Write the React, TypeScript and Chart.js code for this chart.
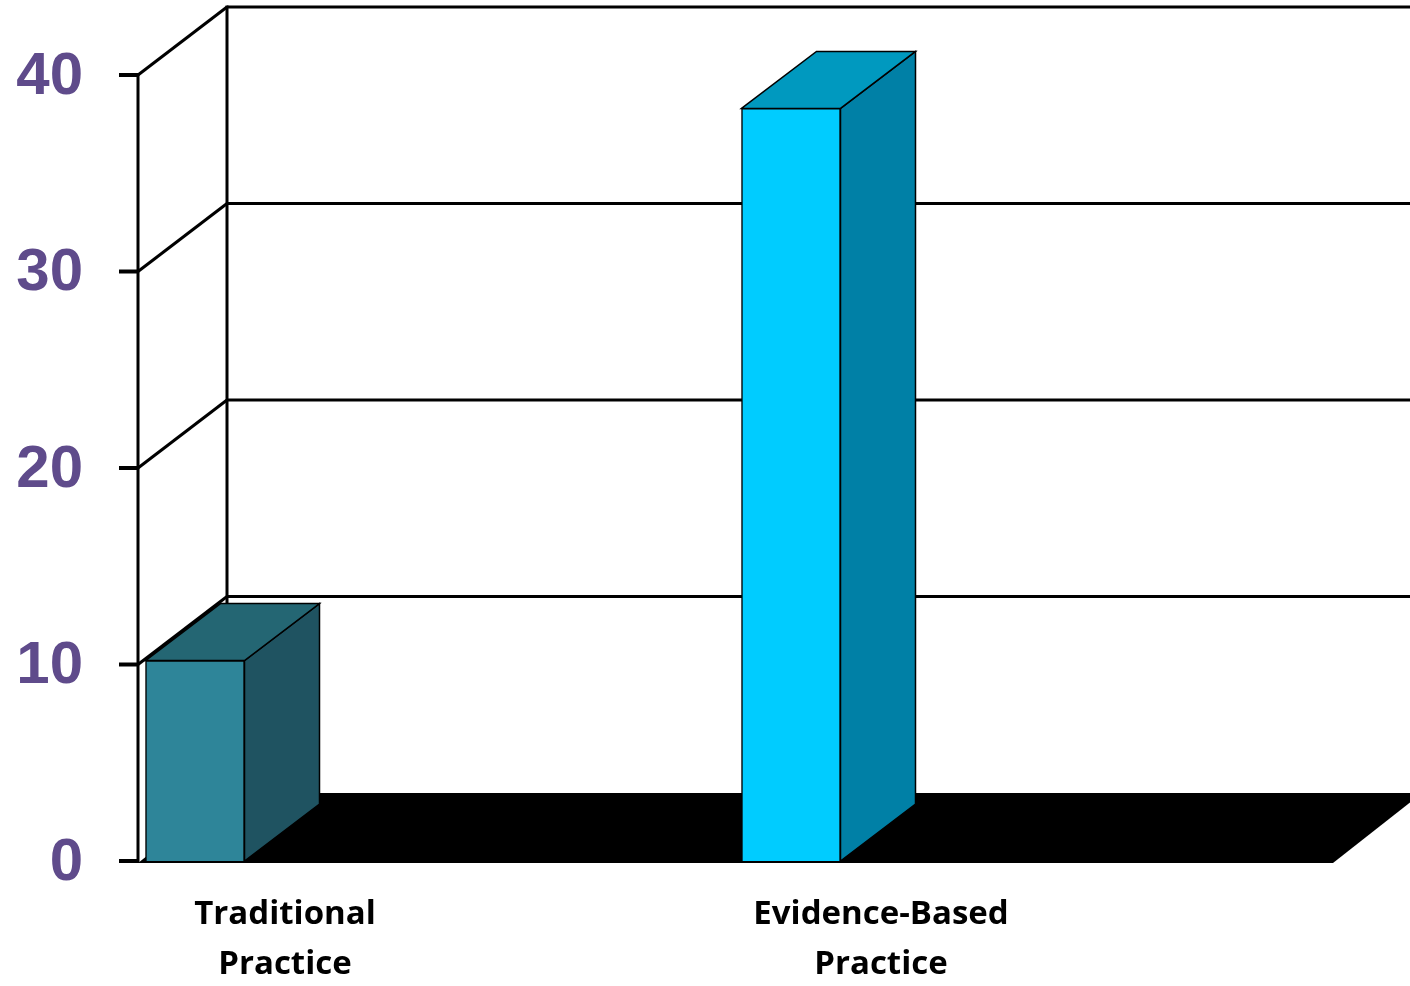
import React, { useEffect, useRef } from 'react';
import { Chart, registerables } from 'chart.js';

Chart.register(...registerables);

// ---- data ----
const CATEGORIES: string[][] = [
  ['Traditional', 'Practice'],
  ['Evidence-Based', 'Practice'],
];
const VALUES: number[] = [10.2, 38.3];
const Y_TICKS: number[] = [0, 10, 20, 30, 40];
const Y_MIN = 0;
const Y_MAX = 40;

// ---- styles ----
const FRONT_COLORS = ['#2E8599', '#00CCFF'];
const TOP_COLORS = ['#246673', '#0099BF'];
const SIDE_COLORS = ['#1F5361', '#0080A6'];
const TICK_COLOR = '#5F4B8B';

const W = 1410;
const H = 986;
const WALL_DX = 89;
const WALL_DY = -68;
const BAR_DX = 75;
const BAR_DY = -57;
const WALL_LEFT_GAP = 57;
const FLOOR_RIGHT_EXT = 542;
const LABEL_DX = 90;

const threeDPlugin = {
  id: 'threeD',
  beforeDatasetsDraw(chart: any) {
    const ctx: CanvasRenderingContext2D = chart.ctx;
    const xs = chart.scales.x;
    const ys = chart.scales.y;
    const x0 = xs.getPixelForValue(0) - WALL_LEFT_GAP;
    const xR = xs.getPixelForValue(CATEGORIES.length - 1) + FLOOR_RIGHT_EXT;
    const yBase = ys.getPixelForValue(Y_MIN);
    const yTop = ys.getPixelForValue(Y_MAX);

    const line = (ax: number, ay: number, bx: number, by: number) => {
      ctx.beginPath();
      ctx.moveTo(ax, ay);
      ctx.lineTo(bx, by);
      ctx.stroke();
    };
    const poly = (pts: number[][], fill: string, stroke?: string, lw = 1.5) => {
      ctx.beginPath();
      ctx.moveTo(pts[0][0], pts[0][1]);
      for (let i = 1; i < pts.length; i++) ctx.lineTo(pts[i][0], pts[i][1]);
      ctx.closePath();
      ctx.fillStyle = fill;
      ctx.fill();
      if (stroke) {
        ctx.strokeStyle = stroke;
        ctx.lineWidth = lw;
        ctx.lineJoin = 'miter';
        ctx.stroke();
      }
    };

    ctx.save();
    ctx.strokeStyle = '#000';
    ctx.lineCap = 'butt';
    ctx.lineWidth = 3;

    // back wall gridlines and left wall diagonals
    Y_TICKS.forEach((v) => {
      if (v === Y_MIN) return;
      const y = ys.getPixelForValue(v);
      line(x0 + WALL_DX, y + WALL_DY, W + 20, y + WALL_DY);
      line(x0, y, x0 + WALL_DX, y + WALL_DY);
    });
    // back wall vertical
    line(x0 + WALL_DX, yTop + WALL_DY - 1.5, x0 + WALL_DX, yBase + WALL_DY);
    // left wall vertical
    line(x0, yTop - 1.5, x0, yBase + 2);

    // tick marks
    ctx.lineWidth = 4;
    Y_TICKS.forEach((v) => {
      const y = ys.getPixelForValue(v);
      line(x0 - 19, y, x0, y);
    });

    // floor
    poly(
      [
        [x0, yBase + 2],
        [xR, yBase + 2],
        [xR + WALL_DX, yBase + WALL_DY],
        [x0 + WALL_DX, yBase + WALL_DY],
      ],
      '#000'
    );

    // tick labels
    ctx.fillStyle = TICK_COLOR;
    ctx.font = 'bold 60px "Liberation Sans", Arial, sans-serif';
    ctx.textAlign = 'right';
    ctx.textBaseline = 'middle';
    Y_TICKS.forEach((v) => {
      const y = ys.getPixelForValue(v);
      ctx.fillText(String(v), x0 - 55, y + 2);
    });

    // category labels
    ctx.fillStyle = '#000';
    ctx.font = 'bold 33px "Open Sans", Lato, sans-serif';
    ctx.textAlign = 'center';
    ctx.textBaseline = 'alphabetic';
    CATEGORIES.forEach((lines, i) => {
      const cx = xs.getPixelForValue(i) + LABEL_DX;
      lines.forEach((t, j) => {
        ctx.fillText(t, cx, yBase + 63 + j * 50);
      });
    });

    // bar side and top faces
    const meta = chart.getDatasetMeta(0);
    meta.data.forEach((bar: any, i: number) => {
      const { x, y, base, width } = bar.getProps(['x', 'y', 'base', 'width'], true);
      const l = x - width / 2;
      const r = x + width / 2;
      poly(
        [
          [r, y],
          [r + BAR_DX, y + BAR_DY],
          [r + BAR_DX, base + BAR_DY],
          [r, base],
        ],
        SIDE_COLORS[i],
        '#000'
      );
      poly(
        [
          [l, y],
          [l + BAR_DX, y + BAR_DY],
          [r + BAR_DX, y + BAR_DY],
          [r, y],
        ],
        TOP_COLORS[i],
        '#000'
      );
    });

    ctx.restore();
  },
};

export default function App() {
  const ref = useRef<HTMLCanvasElement | null>(null);

  useEffect(() => {
    if (!ref.current) return;
    const chart = new Chart(ref.current, {
      type: 'bar',
      data: {
        labels: CATEGORIES.map((c) => c.join(' ')),
        datasets: [
          {
            data: VALUES,
            backgroundColor: FRONT_COLORS,
            borderColor: '#000',
            borderWidth: 1.5,
            barThickness: 99,
            clip: false as any,
          },
        ],
      },
      options: {
        responsive: false,
        animation: false,
        events: [],
        layout: {
          padding: { left: 195, right: W - 791, top: 75, bottom: H - 861 },
        },
        plugins: {
          legend: { display: false },
          tooltip: { enabled: false },
        },
        scales: {
          x: { type: 'category', offset: false, display: false },
          y: { type: 'linear', min: Y_MIN, max: Y_MAX, display: false },
        },
      },
      plugins: [threeDPlugin],
    });
    return () => chart.destroy();
  }, []);

  return (
    <div style={{ position: 'fixed', left: 0, top: 0, width: W, height: H, background: '#fff' }}>
      <canvas ref={ref} width={W} height={H} style={{ display: 'block' }} />
    </div>
  );
}
